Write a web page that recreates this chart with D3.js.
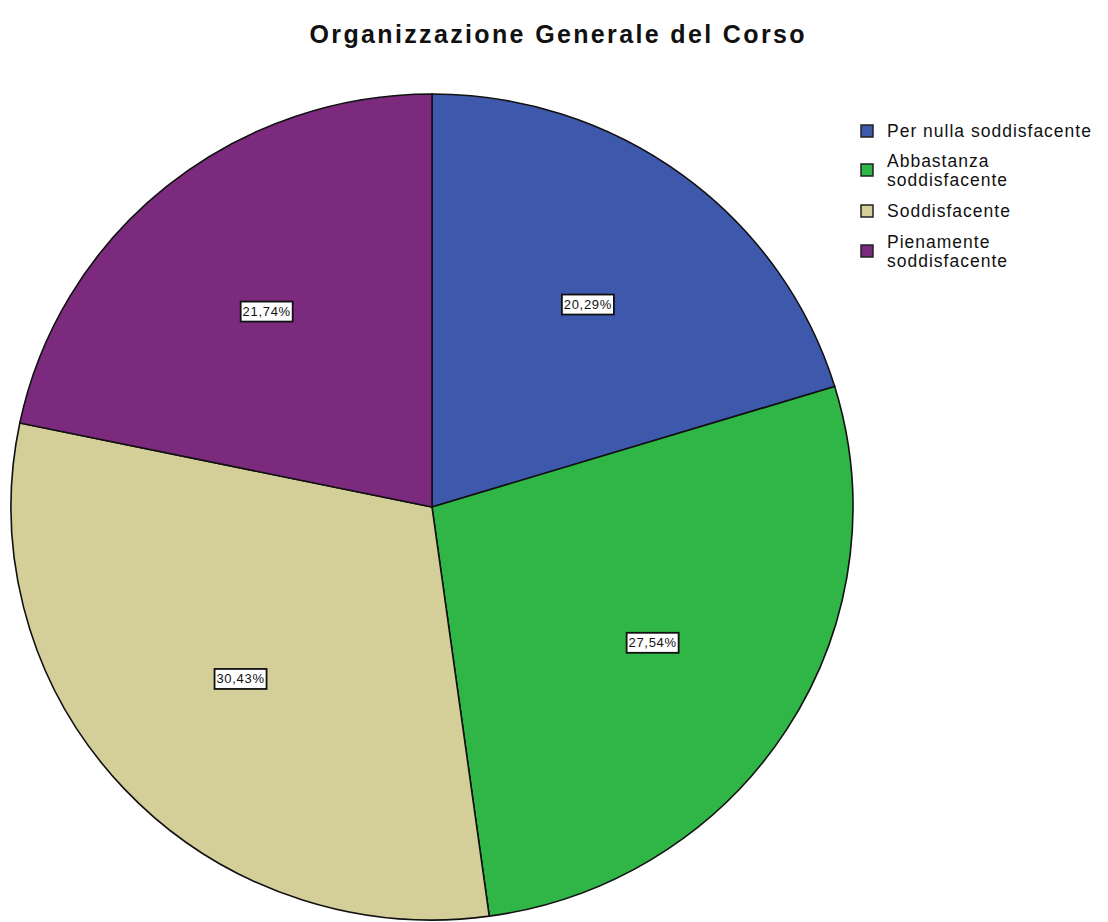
<!DOCTYPE html>
<html>
<head>
<meta charset="utf-8">
<script src="https://cdn.jsdelivr.net/npm/d3@7"></script>
<style>
  body { margin: 0; background: #fff; }
  svg { display: block; font-family: "Liberation Sans", Arial, sans-serif; }
</style>
</head>
<body>
<svg id="chart" width="1108" height="922"></svg>
<script>
'use strict';

// data
var categories = ['Per nulla soddisfacente', 'Abbastanza soddisfacente', 'Soddisfacente', 'Pienamente soddisfacente'];
var legendLines = [['Per nulla soddisfacente'], ['Abbastanza', 'soddisfacente'], ['Soddisfacente'], ['Pienamente', 'soddisfacente']];
var percents = [20.29, 27.54, 30.43, 21.74];
var labels = ['20,29%', '27,54%', '30,43%', '21,74%'];
var colors = ['#3e58ac', '#2fb647', '#d4cf98', '#7b2a7e'];

var svg = d3.select('#chart');
var cx = 432, cy = 507, rx = 421, ry = 413;

svg.append('text')
  .attr('x', 557).attr('y', 43)
  .attr('text-anchor', 'middle')
  .attr('font-size', 25).attr('font-weight', 'bold')
  .attr('textLength', 495).attr('lengthAdjust', 'spacing')
  .attr('fill', '#111')
  .text('Organizzazione Generale del Corso');

var pie = d3.pie().sort(null).value(function(d) { return d; });
var arcs = pie(percents);
var arc = d3.arc().innerRadius(0).outerRadius(ry);
var labelArc = d3.arc().innerRadius(ry * 0.61).outerRadius(ry * 0.61);

var g = svg.append('g')
  .attr('transform', 'translate(' + cx + ',' + cy + ') scale(' + (rx / ry) + ',1)');

g.selectAll('path.slice').data(arcs).enter().append('path')
  .attr('class', 'slice')
  .attr('d', arc)
  .attr('fill', function(d, i) { return colors[i]; })
  .attr('stroke', '#111')
  .attr('stroke-width', 1.6)
  .attr('vector-effect', 'non-scaling-stroke');

// percent labels
var lg = svg.append('g').attr('transform', 'translate(' + cx + ',' + cy + ')');
var lab = lg.selectAll('g.lab').data(arcs).enter().append('g')
  .attr('class', 'lab')
  .attr('transform', function(d) {
    var c = labelArc.centroid(d);
    return 'translate(' + (c[0] * rx / ry * 1.02) + ',' + c[1] + ')';
  });
lab.append('rect')
  .attr('x', -26).attr('y', -10).attr('width', 52).attr('height', 20)
  .attr('fill', '#fff').attr('stroke', '#111').attr('stroke-width', 1.8);
lab.append('text')
  .attr('text-anchor', 'middle').attr('dy', 4.5)
  .attr('font-size', 13).attr('letter-spacing', 0.7).attr('fill', '#111')
  .text(function(d, i) { return labels[i]; });

// legend
var legendY = [131, 170, 211, 251];
var leg = svg.append('g');
categories.forEach(function(c, i) {
  var row = leg.append('g').attr('transform', 'translate(861,' + legendY[i] + ')');
  row.append('rect')
    .attr('x', 0).attr('y', -6).attr('width', 12).attr('height', 12)
    .attr('fill', colors[i]).attr('stroke', '#222').attr('stroke-width', 1.5);
  var lines = legendLines[i];
  lines.forEach(function(t, j) {
    row.append('text')
      .attr('x', 26)
      .attr('y', 6 + (j - (lines.length - 1) / 2) * 19)
      .attr('font-size', 17.5).attr('letter-spacing', 1).attr('fill', '#111')
      .text(t);
  });
});
</script>
</body>
</html>
